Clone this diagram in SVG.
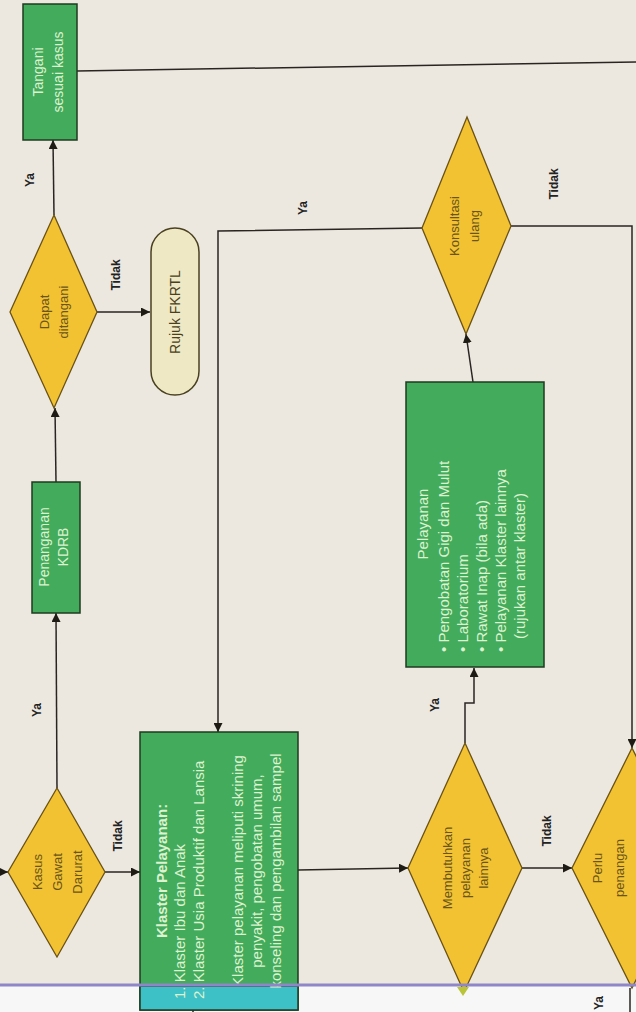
<svg xmlns="http://www.w3.org/2000/svg" width="636" height="1012" viewBox="0 0 636 1012">
<defs>
<marker id="ah" viewBox="0 0 10 10" refX="10" refY="5" markerWidth="9" markerHeight="9" markerUnits="userSpaceOnUse" orient="auto">
<path d="M0,0 L10,5 L0,10 z" fill="#1e1a14"/>
</marker>
<style>
.bg{fill:#ECE8E0}
.box{fill:#43AB5C;stroke:#1f3a1f;stroke-width:1.5}
.dia{fill:#F2C232;stroke:#6b5214;stroke-width:1.3}
.term{fill:#EFE8C4;stroke:#4a4020;stroke-width:1.5}
.ln{fill:none;stroke:#2a2520;stroke-width:1.5}
.lna{fill:none;stroke:#2a2520;stroke-width:1.5;marker-end:url(#ah)}
.tb{font-family:"Liberation Sans",Arial,sans-serif;font-size:14px;fill:#DDF2CF}
.tb15{font-family:"Liberation Sans",Arial,sans-serif;font-size:15px;fill:#DDF2CF}
.td{font-family:"Liberation Sans",Arial,sans-serif;font-size:13px;fill:#6a5418}
.tt{font-family:"Liberation Sans",Arial,sans-serif;font-size:14px;fill:#4a4020}
.lb{font-family:"Liberation Sans",Arial,sans-serif;font-size:12px;font-weight:bold;fill:#222}
</style>
</defs>
<rect class="bg" x="0" y="0" width="636" height="1012"/>
<rect x="0" y="985" width="636" height="27" fill="#F7F7F7"/>

<g id="connectors">
<line class="lna" x1="57" y1="788" x2="56" y2="613"/>
<line class="lna" x1="56" y1="482" x2="55" y2="408"/>
<line class="lna" x1="54" y1="215" x2="53" y2="140"/>
<line class="lna" x1="97" y1="312" x2="150" y2="312"/>
<line class="ln" x1="77" y1="71" x2="636" y2="62"/>
<line class="lna" x1="-2" y1="872" x2="8" y2="872"/>
<line class="lna" x1="105" y1="872" x2="140" y2="872"/>
<line class="lna" x1="298" y1="870" x2="408" y2="868"/>
<polyline class="lna" points="465,743 465,703 474,703 474,668"/>
<line class="lna" x1="473" y1="382" x2="466" y2="334"/>
<polyline class="lna" points="422,228 218,231 218,732"/>
<polyline class="lna" points="511,226 632,226 632,748"/>
<line class="lna" x1="522" y1="868" x2="572" y2="868"/>
<line class="ln" x1="630" y1="988" x2="630" y2="1012"/>
<line class="ln" x1="193" y1="1009" x2="193" y2="1012"/>
</g>

<g id="labels">
<text class="lb" transform="translate(41,710) rotate(-90)" text-anchor="middle">Ya</text>
<text class="lb" transform="translate(34,180) rotate(-90)" text-anchor="middle">Ya</text>
<text class="lb" transform="translate(122,836) rotate(-90)" text-anchor="middle">Tidak</text>
<text class="lb" transform="translate(120,275) rotate(-90)" text-anchor="middle">Tidak</text>
<text class="lb" transform="translate(307,208) rotate(-90)" text-anchor="middle">Ya</text>
<text class="lb" transform="translate(558,184) rotate(-90)" text-anchor="middle">Tidak</text>
<text class="lb" transform="translate(439,705) rotate(-90)" text-anchor="middle">Ya</text>
<text class="lb" transform="translate(551,831) rotate(-90)" text-anchor="middle">Tidak</text>
<text class="lb" transform="translate(603,1010) rotate(-90)">Ya</text>
</g>

<g id="kasus">
<polygon class="dia" points="57,788 105,872 57,957 8,872"/>
<text class="td" transform="translate(57,872) rotate(-90)" text-anchor="middle"><tspan x="0" y="-15">Kasus</tspan><tspan x="0" y="5">Gawat</tspan><tspan x="0" y="25">Darurat</tspan></text>
</g>

<g id="kdrb">
<rect class="box" x="32" y="482" width="48" height="131"/>
<text class="tb" transform="translate(56,547) rotate(-90)" text-anchor="middle"><tspan x="0" y="-7">Penanganan</tspan><tspan x="0" y="12">KDRB</tspan></text>
</g>

<g id="dapat">
<polygon class="dia" points="54,215 97,312 54,408 10,312"/>
<text class="td" transform="translate(54,312) rotate(-90)" text-anchor="middle"><tspan x="0" y="-5">Dapat</tspan><tspan x="0" y="14">ditangani</tspan></text>
</g>

<g id="tangani">
<rect class="box" x="23" y="4" width="54" height="136"/>
<text class="tb" transform="translate(50,72) rotate(-90)" text-anchor="middle"><tspan x="0" y="-7">Tangani</tspan><tspan x="0" y="13">sesuai kasus</tspan></text>
</g>

<g id="rujuk">
<rect class="term" x="151" y="228" width="48" height="167" rx="24" ry="24"/>
<text class="tt" transform="translate(175,312) rotate(-90)" text-anchor="middle" y="5">Rujuk FKRTL</text>
</g>

<g id="klaster">
<rect class="box" x="140" y="732" width="158" height="278"/>
<rect x="140" y="986" width="158" height="24" fill="#3EC1C6" stroke="#1f3a1f" stroke-width="1.5"/>
<text class="tb15" transform="translate(219,871) rotate(-90)"><tspan x="0" y="-52" text-anchor="middle" font-weight="bold">Klaster Pelayanan:</tspan><tspan x="-128" y="-34">1.  Klaster Ibu dan Anak</tspan><tspan x="-128" y="-15">2.  Klaster Usia Produktif dan Lansia</tspan><tspan x="0" y="24" text-anchor="middle">Klaster pelayanan meliputi skrining</tspan><tspan x="0" y="43" text-anchor="middle">penyakit, pengobatan umum,</tspan><tspan x="0" y="62" text-anchor="middle">konseling dan pengambilan sampel</tspan></text>
</g>

<g id="membutuhkan">
<polygon class="dia" points="465,743 522,868 464,992 408,868"/>
<text class="td" transform="translate(465,868) rotate(-90)" text-anchor="middle"><tspan x="0" y="-13">Membutuhkan</tspan><tspan x="0" y="5">pelayanan</tspan><tspan x="0" y="23">lainnya</tspan></text>
</g>

<g id="pelayanan">
<rect class="box" x="406" y="382" width="138" height="285"/>
<text class="tb15" transform="translate(475,524) rotate(-90)"><tspan x="0" y="-47" text-anchor="middle">Pelayanan</tspan><tspan x="-128" y="-26">•  Pengobatan Gigi dan Mulut</tspan><tspan x="-128" y="-7">•  Laboratorium</tspan><tspan x="-128" y="12">•  Rawat Inap (bila ada)</tspan><tspan x="-128" y="31">•  Pelayanan Klaster lainnya</tspan><tspan x="-115" y="50">(rujukan antar klaster)</tspan></text>
</g>

<g id="konsultasi">
<polygon class="dia" points="467,117 511,226 466,334 422,228"/>
<text class="td" transform="translate(466,226) rotate(-90)" text-anchor="middle"><tspan x="0" y="-7">Konsultasi</tspan><tspan x="0" y="13">ulang</tspan></text>
</g>

<g id="perlu">
<polygon class="dia" points="632,748 692,868 632,988 572,868"/>
<text class="td" transform="translate(632,868) rotate(-90)" text-anchor="middle"><tspan x="0" y="-30">Perlu</tspan><tspan x="0" y="-8">penangan</tspan></text>
</g>

<line x1="0" y1="985" x2="636" y2="985" stroke="#8E86C8" stroke-width="3"/>
<polygon points="457,987 469,987 463,996" fill="#B9C43A"/>
</svg>
